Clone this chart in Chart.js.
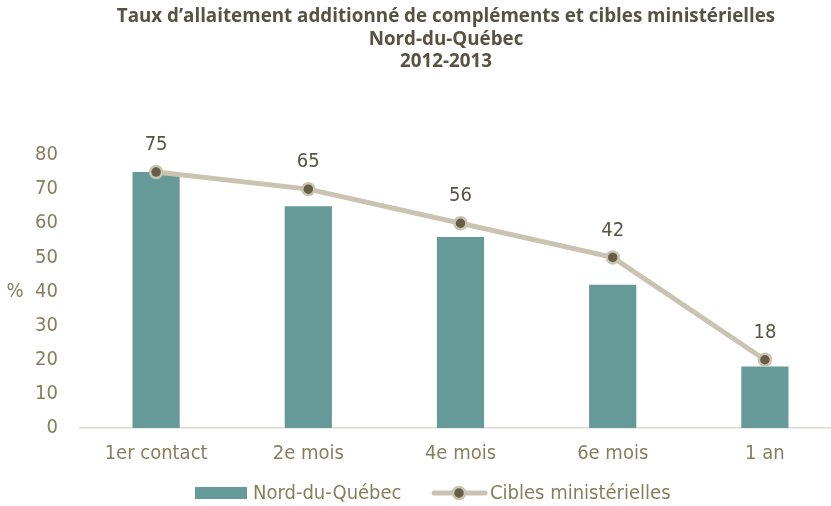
<!DOCTYPE html>
<html>
<head>
<meta charset="utf-8">
<script src="https://cdn.jsdelivr.net/npm/chart.js@4/dist/chart.umd.min.js"></script>
<style>
  html, body { margin: 0; padding: 0; background: #fff; overflow: hidden; }
  #clip { width: 831px; height: 506px; overflow: hidden; }
  #wrap { width: 932px; height: 506px; position: relative; }
</style>
</head>
<body>
<div id="clip"><div id="wrap"><canvas id="chart"></canvas></div></div>
<script>
// Taux d'allaitement — Nord-du-Québec 2012-2013
const titleLines = ['Taux d’allaitement additionné de compléments et cibles ministérielles', 'Nord-du-Québec', '2012-2013'];
const categories = ['1er contact', '2e mois', '4e mois', '6e mois', '1 an'];
const tauxRegion = [75, 65, 56, 42, 18];
const ciblesMin  = [75, 70, 60, 50, 20];
const yTicks     = [0, 10, 20, 30, 40, 50, 60, 70, 80];

const BAR = '#669a98';
const LINE = '#cbc3b2';
const DOT = '#675f45';
const TICK = '#8a7d5e';
const TXT = '#5b5443';
const NARROW = '"DejaVu Sans Condensed", "Liberation Sans Narrow", sans-serif';
const FS = 20;

// titre, etiquettes au-dessus des points de la cible, "%" et légende dessinés à la main
const extras = {
  id: 'extras',
  afterDatasetsDraw(chart) {
    const ctx = chart.ctx;
    const pts = chart.getDatasetMeta(1).data;
    ctx.save();
    ctx.textAlign = 'center';
    ctx.textBaseline = 'middle';

    ctx.font = 'bold 18.8px "Open Sans", sans-serif';
    ctx.fillStyle = '#595241';
    titleLines.forEach((t, i) => ctx.fillText(t, 446, 17 + i * 22.5));

    ctx.font = FS + 'px ' + NARROW;
    ctx.fillStyle = TXT;
    pts.forEach((p, i) => ctx.fillText(tauxRegion[i], p.x, p.y - 27));

    ctx.fillStyle = TICK;
    ctx.fillText('%', 15, chart.scales.y.getPixelForValue(40));

    // légende
    const ly = 493;
    ctx.textAlign = 'left';
    ctx.fillStyle = BAR;
    ctx.fillRect(195, ly - 6, 52, 12);
    ctx.fillStyle = TICK;
    ctx.fillText('Nord-du-Québec', 253, ly + 1);

    ctx.strokeStyle = LINE;
    ctx.lineWidth = 5;
    ctx.lineCap = 'round';
    ctx.beginPath(); ctx.moveTo(434, ly); ctx.lineTo(485, ly); ctx.stroke();
    ctx.beginPath(); ctx.arc(459, ly, 6, 0, Math.PI * 2);
    ctx.fillStyle = DOT; ctx.fill();
    ctx.lineWidth = 2.5; ctx.strokeStyle = LINE; ctx.stroke();
    ctx.fillStyle = TICK;
    ctx.fillText('Cibles ministérielles', 490, ly + 1);
    ctx.restore();
  }
};

new Chart(document.getElementById('chart'), {
  data: {
    labels: categories,
    datasets: [
      {
        type: 'bar', label: 'Nord-du-Québec', data: tauxRegion,
        backgroundColor: BAR, barPercentage: 0.31, categoryPercentage: 1, order: 2
      },
      {
        type: 'line', label: 'Cibles ministérielles', data: ciblesMin,
        borderColor: LINE, borderWidth: 5, pointRadius: 6, pointHoverRadius: 6,
        pointBackgroundColor: DOT, pointBorderColor: LINE, pointBorderWidth: 2.5,
        tension: 0, order: 1
      }
    ]
  },
  options: {
    responsive: true,
    maintainAspectRatio: false,
    animation: false,
    layout: { padding: { left: 0, right: 91, top: 155, bottom: 26 } },
    plugins: {
      legend: { display: false },
      tooltip: { enabled: false },
      title: { display: false }
    },
    scales: {
      x: {
        grid: { display: false, drawTicks: false },
        border: { color: '#dedad2', width: 1.5 },
        ticks: { color: TICK, font: { family: NARROW, size: FS }, padding: 14 }
      },
      y: {
        min: 0, max: 80,
        afterBuildTicks: ax => { ax.ticks = yTicks.map(v => ({ value: v })); },
        afterFit: ax => { ax.width = 80; },
        grid: { display: false, drawTicks: false },
        border: { display: false },
        ticks: { color: TICK, font: { family: NARROW, size: FS }, padding: 22 }
      }
    }
  },
  plugins: [extras]
});
</script>
</body>
</html>
